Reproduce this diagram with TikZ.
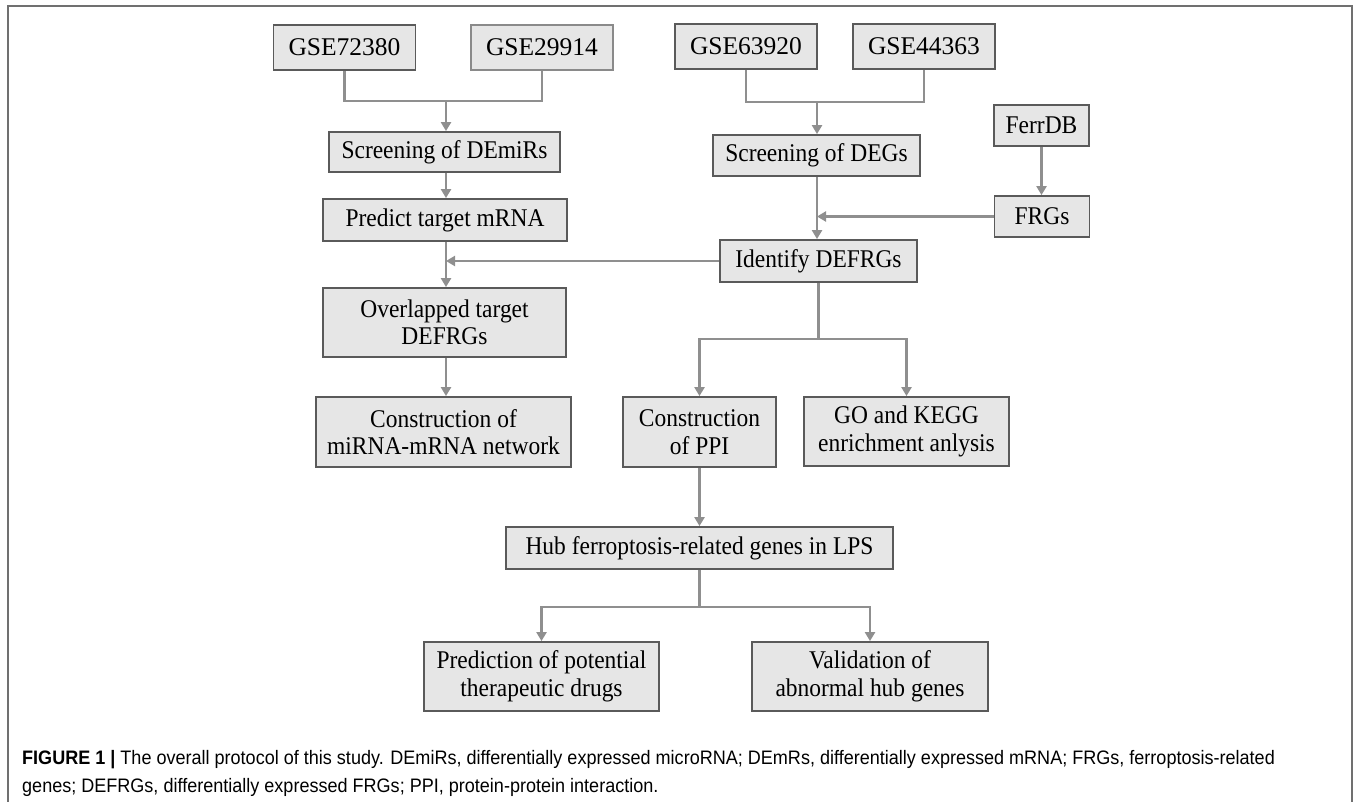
\documentclass[tikz,border=0pt]{standalone}
\usepackage{fontspec}
\setmainfont{Liberation Serif}
\newfontfamily\boxfont[FakeStretch=0.92]{Liberation Serif}
\newfontfamily\capfont[FakeStretch=0.925]{Liberation Sans}
\usetikzlibrary{arrows.meta}
\definecolor{boxfill}{HTML}{E6E6E6}
\definecolor{boxline}{HTML}{5A5A5A}
\definecolor{boxlinelight}{HTML}{8A8A8A}
\definecolor{connc}{HTML}{8F8F8F}
\definecolor{framec}{HTML}{707070}
\begin{document}
\begin{tikzpicture}[x=1pt,y=-1pt,
  box/.style={draw=boxline, line width=1.8pt, fill=boxfill, inner sep=0pt, align=center,
              font=\boxfont\fontsize{25.5}{27.5}\selectfont},
  gse/.style={box, font=\rmfamily\fontsize{25.5}{29}\selectfont, minimum width=142pt, minimum height=45pt},
  conn/.style={draw=connc, line width=2.4pt},
  arr/.style={conn, -{Triangle[width=10pt,length=9pt]}},
  captxt/.style={anchor=base west, inner sep=0pt, font=\capfont\fontsize{19.5}{28}\selectfont}
]
\useasboundingbox (0,0) rectangle (1354,802);
\draw[framec, line width=2pt] (8,802) -- (8,6) -- (1352,6) -- (1352,802);

% nodes
\node[gse] (g1) at (344.5,47.5) {GSE72380};
\node[gse, draw=boxlinelight] (g2) at (542,47.5) {GSE29914};
\node[gse] (g3) at (746,46.5) {GSE63920};
\node[gse] (g4) at (924,46.5) {GSE44363};
\node[box, minimum width=231pt, minimum height=40pt] (s1) at (444.5,152) {Screening of DEmiRs};
\node[box, minimum width=207pt, minimum height=41pt] (s2) at (816.5,155.5) {Screening of DEGs};
\node[box, minimum width=95pt, minimum height=41pt] (ferr) at (1041.5,125.5) {FerrDB};
\node[box, minimum width=95pt, minimum height=41pt] (frgs) at (1042,216.5) {FRGs};
\node[box, minimum width=244pt, minimum height=42pt] (pred) at (445,220) {Predict target mRNA};
\node[box, minimum width=197pt, minimum height=42pt] (idf) at (818.5,261) {Identify DEFRGs};
\node[box, minimum width=243pt, minimum height=69pt] (ovl) at (444.5,322.5) {Overlapped target\\DEFRGs};
\node[box, minimum width=255pt, minimum height=70pt] (cmi) at (443.5,432) {Construction of\\miRNA-mRNA network};
\node[box, minimum width=153pt, minimum height=70pt] (ppi) at (699.5,432) {Construction\\of PPI};
\node[box, minimum width=205pt, minimum height=69pt] (go) at (906.5,431.5) {GO and KEGG\\enrichment anlysis};
\node[box, minimum width=387pt, minimum height=42pt] (hub) at (699.5,548) {Hub ferroptosis-related genes in LPS};
\node[box, minimum width=235pt, minimum height=69pt] (pre) at (541.5,676.5) {Prediction of potential\\therapeutic drugs};
\node[box, minimum width=236pt, minimum height=69pt] (val) at (870,676.5) {Validation of\\abnormal hub genes};

% junctions
\coordinate (j1) at (446,101);
\coordinate (j2) at (817,102);
\coordinate (j3) at (818.5,339);
\coordinate (j4) at (699.5,607);

% connectors
\draw[conn] (g1.south) |- (j1) -| (g2.south);
\draw[arr] (j1) -- (j1 |- s1.north);
\draw[conn] (g3.south) |- (j2) -| (g4.south);
\draw[arr] (j2) -- (j2 |- s2.north);
\draw[arr] (s1.south -| j1) -- (pred.north -| j1);
\draw[arr] (s2.south -| j2) -- (idf.north -| j2);
\draw[arr] (ferr.south) -- (ferr.south |- frgs.north);
\draw[arr] (frgs.west) -- (frgs.west -| j2);
\draw[arr] (pred.south -| j1) -- (ovl.north -| j1);
\draw[arr] (idf.west) -- (idf.west -| j1);
\draw[arr] (ovl.south -| j1) -- (cmi.north -| j1);
\draw[conn] (idf.south) -- (j3);
\draw[arr] (j3) -| (ppi.north);
\draw[arr] (j3) -| (go.north);
\draw[arr] (ppi.south) -- (ppi.south |- hub.north);
\draw[conn] (hub.south) -- (j4);
\draw[arr] (j4) -| (pre.north);
\draw[arr] (j4) -| (val.north);

% caption
\node[captxt] (cap1) at (22,764) {\textbf{FIGURE 1 |} The overall protocol of this study. DEmiRs, differentially expressed microRNA; DEmRs, differentially expressed mRNA; FRGs, ferroptosis-related};
\node[captxt] (cap2) at (22,792) {genes; DEFRGs, differentially expressed FRGs; PPI, protein-protein interaction.};
\end{tikzpicture}
\end{document}
